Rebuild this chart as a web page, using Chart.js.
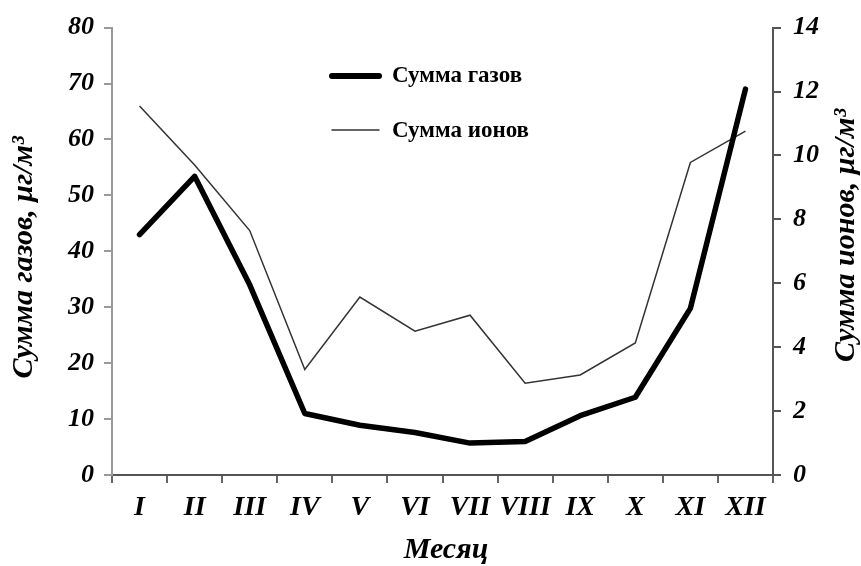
<!DOCTYPE html>
<html>
<head>
<meta charset="utf-8">
<script src="https://cdn.jsdelivr.net/npm/chart.js@4"></script>
<style>
  html, body { margin: 0; padding: 0; background: #fff; }
  #wrap { width: 861px; height: 566px; }
</style>
</head>
<body>
<div id="wrap"><canvas id="chart"></canvas></div>
<script>
// month labels (roman numerals)
const months = ['I', 'II', 'III', 'IV', 'V', 'VI', 'VII', 'VIII', 'IX', 'X', 'XI', 'XII'];

// sum of gases, left axis (мкг/м3)
const gasSum = [43, 53.4, 34, 11, 8.9, 7.6, 5.7, 6.0, 10.6, 13.9, 29.8, 69];

// sum of ions, right axis
const ionSum = [11.55, 9.7, 7.65, 3.3, 5.57, 4.5, 5.0, 2.87, 3.13, 4.13, 9.78, 10.76];

const leftTitle = 'Сумма газов, μг/м³';
const rightTitle = 'Сумма ионов, μг/м³';
const xTitle = 'Месяц';
const legendItems = ['Сумма газов', 'Сумма ионов'];

const serif = '"Liberation Serif", "Times New Roman", serif';

// axis titles + legend drawn by hand (right title reads bottom-to-top like the left one)
const extras = {
    id: 'extras',
    afterDraw(chart) {
        const ctx = chart.ctx;
        const area = chart.chartArea;
        const midY = (area.top + area.bottom) / 2;
        ctx.save();
        ctx.fillStyle = '#000';
        ctx.textAlign = 'center';
        ctx.textBaseline = 'middle';
        ctx.font = 'italic bold 30px ' + serif;

        ctx.save();
        ctx.translate(24, midY + 6);
        ctx.rotate(-Math.PI / 2);
        ctx.fillText(leftTitle, 0, 0);
        ctx.restore();

        ctx.save();
        ctx.translate(846, midY - 16);
        ctx.rotate(-Math.PI / 2);
        ctx.fillText(rightTitle, 0, 0);
        ctx.restore();

        ctx.font = 'italic bold 30px ' + serif;
        ctx.fillText(xTitle, 446, 550);

        // legend
        ctx.textAlign = 'left';
        ctx.font = 'bold 23px ' + serif;
        ctx.lineCap = 'round';
        ctx.strokeStyle = '#000';
        ctx.lineWidth = 6;
        ctx.beginPath(); ctx.moveTo(332, 76); ctx.lineTo(379, 76); ctx.stroke();
        ctx.fillText(legendItems[0], 392, 76);
        ctx.strokeStyle = '#333';
        ctx.lineWidth = 1.5;
        ctx.beginPath(); ctx.moveTo(332, 130); ctx.lineTo(379, 130); ctx.stroke();
        ctx.fillText(legendItems[1], 392, 131);
        ctx.restore();
    }
};

const tickFont = { family: serif, size: 26, style: 'italic', weight: 'bold' };

new Chart(document.getElementById('chart'), {
    type: 'line',
    data: {
        labels: months,
        datasets: [
            {
                label: legendItems[0],
                data: gasSum,
                yAxisID: 'y',
                borderColor: '#000',
                borderWidth: 5.5,
                pointRadius: 0,
                tension: 0,
                borderJoinStyle: 'round',
                borderCapStyle: 'round'
            },
            {
                label: legendItems[1],
                data: ionSum,
                yAxisID: 'y1',
                borderColor: '#333',
                borderWidth: 1.5,
                pointRadius: 0,
                tension: 0
            }
        ]
    },
    options: {
        responsive: true,
        maintainAspectRatio: false,
        animation: false,
        layout: { padding: { top: 23 } },
        plugins: {
            legend: { display: false },
            tooltip: { enabled: false }
        },
        scales: {
            x: {
                offset: true,
                grid: { drawOnChartArea: false, offset: true, tickLength: 8, color: '#666', lineWidth: 2 },
                border: { color: '#555', width: 2 },
                ticks: {
                    color: '#000',
                    font: { family: serif, size: 28, style: 'italic', weight: 'bold' },
                    padding: 8,
                    maxRotation: 0,
                    autoSkip: false
                },
                afterFit(scale) { scale.height = 91; }
            },
            y: {
                position: 'left',
                min: 0,
                max: 80,
                ticks: { stepSize: 10, color: '#000', font: tickFont, padding: 10 },
                grid: { drawOnChartArea: false, tickLength: 8, color: '#999', lineWidth: 2 },
                border: { color: '#999', width: 2 },
                afterFit(scale) { scale.width = 112; }
            },
            y1: {
                position: 'right',
                min: 0,
                max: 14,
                ticks: { stepSize: 2, color: '#000', font: tickFont, padding: 12 },
                grid: { drawOnChartArea: false, tickLength: 8, color: '#555', lineWidth: 2 },
                border: { color: '#555', width: 2 },
                afterFit(scale) { scale.width = 88; }
            }
        }
    },
    plugins: [extras]
});
</script>
</body>
</html>
